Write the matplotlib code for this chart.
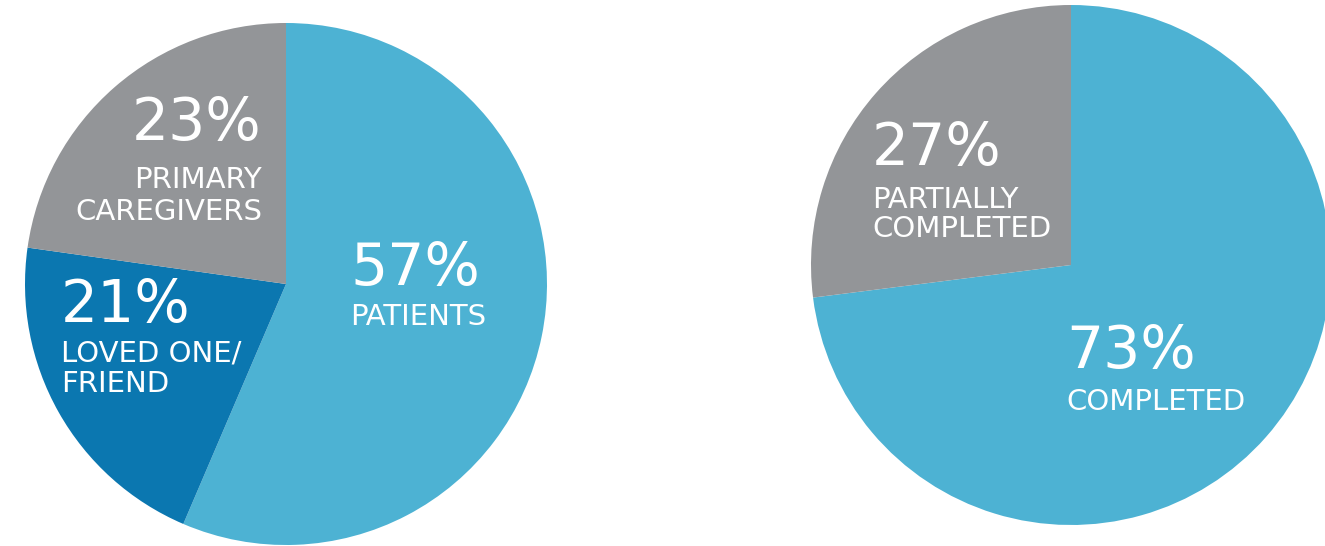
import matplotlib.pyplot as plt

W, H = 1325, 546

LIGHT_BLUE = '#4db2d3'
DARK_BLUE = '#0b77b0'
GRAY = '#939598'

# respondents by role (left) and survey completion (right)
role_labels = ['PATIENTS', 'LOVED ONE/\nFRIEND', 'PRIMARY\nCAREGIVERS']
role_values = [57, 21, 23]
role_colors = [LIGHT_BLUE, DARK_BLUE, GRAY]

completion_labels = ['COMPLETED', 'PARTIALLY\nCOMPLETED']
completion_values = [73, 27]
completion_colors = [LIGHT_BLUE, GRAY]

plt.rcParams['font.family'] = ['DejaVu Sans']

fig = plt.figure(figsize=(W / 100, H / 100), dpi=100)
ax = fig.add_axes([0, 0, 1, 1])


def fy(y):
    return H - y


ax.pie(role_values, colors=role_colors, startangle=90, counterclock=False,
       center=(286, fy(284)), radius=261, frame=True,
       wedgeprops=dict(linewidth=0))
ax.pie(completion_values, colors=completion_colors, startangle=90,
       counterclock=False, center=(1071, fy(265)), radius=260, frame=True,
       wedgeprops=dict(linewidth=0))
ax.set_xlim(0, W)
ax.set_ylim(0, H)
ax.set_aspect('equal')
ax.axis('off')


def label(x, y, value, text, ha, gap, step=31):
    ax.text(x, fy(y), f'{value}%', ha=ha, va='baseline', color='white',
            fontsize=42)
    for i, line in enumerate(text.split('\n')):
        ax.text(x, fy(y + gap + i * step), line, ha=ha, va='baseline',
                color='white', fontsize=21)


# left pie
label(350, 285, role_values[0], role_labels[0], 'left', gap=40)
label(262, 140, role_values[2], role_labels[2], 'right', gap=48, step=32)
label(61, 322, role_values[1], role_labels[1], 'left', gap=40, step=30)

# right pie
label(872, 165, completion_values[1], completion_labels[1], 'left', gap=43, step=29)
label(1066, 368, completion_values[0], completion_labels[0], 'left', gap=42)

fig.savefig('out.png', dpi=100, facecolor='white')
